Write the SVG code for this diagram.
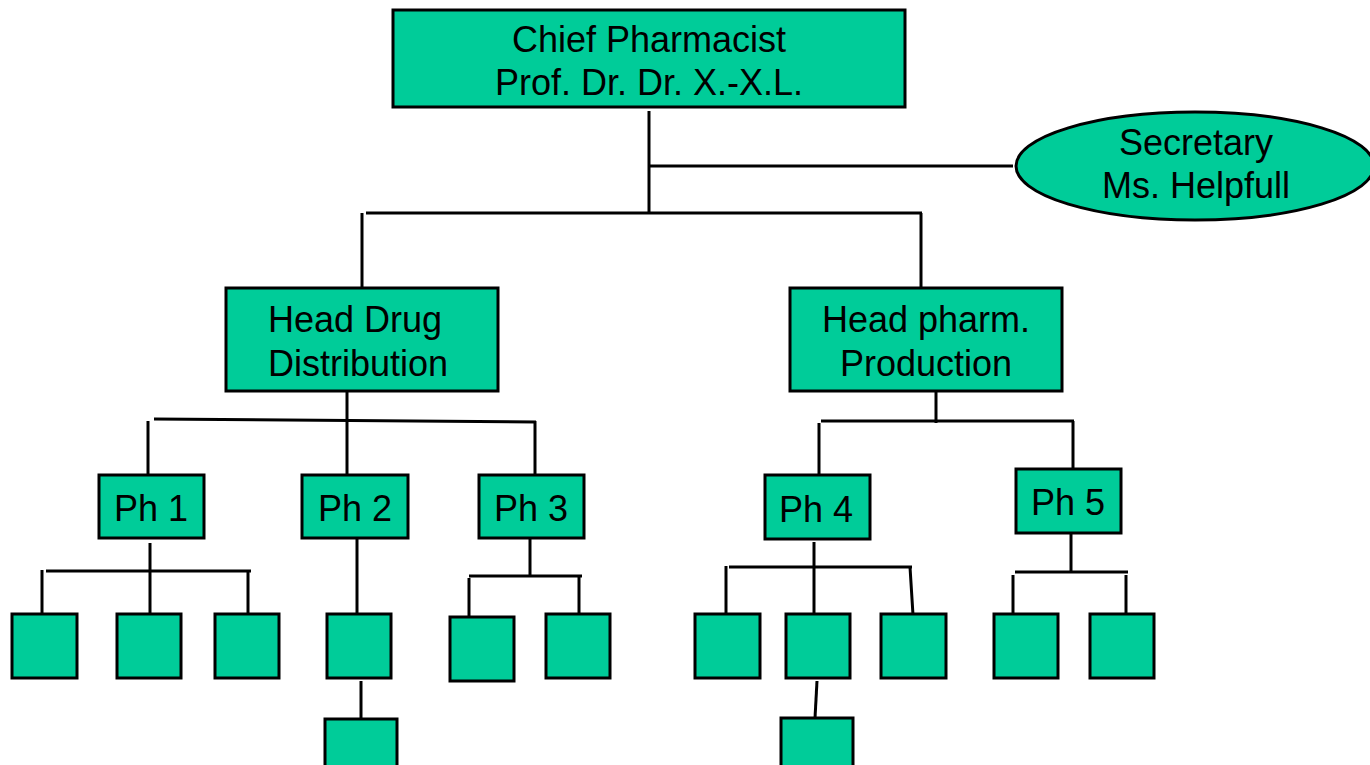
<svg xmlns="http://www.w3.org/2000/svg" width="1370" height="765" viewBox="0 0 1370 765">
  <style>
    .box { fill: #00CC99; stroke: #000; stroke-width: 3; }
    .lbl { font-family: "Liberation Sans", Arial, sans-serif; font-size: 36px; fill: #000; }
    .mid { text-anchor: middle; }
    .wire { stroke: #000; stroke-width: 3; fill: none; stroke-linecap: butt; }
  </style>
  <rect width="1370" height="765" fill="#fff"/>

  <!-- connectors -->
  <g id="connectors" class="wire">
    <!-- chief level -->
    <line x1="649" y1="111" x2="649" y2="213"/>
    <line x1="649" y1="166" x2="1013" y2="166"/>
    <line x1="366" y1="213" x2="922" y2="213"/>
    <line x1="362" y1="213" x2="362" y2="288"/>
    <line x1="921" y1="213" x2="921" y2="288"/>
    <!-- drug distribution -->
    <line x1="347" y1="391" x2="347" y2="476"/>
    <line x1="154" y1="419" x2="536" y2="422"/>
    <line x1="148" y1="421" x2="148" y2="476"/>
    <line x1="535" y1="421" x2="535" y2="476"/>
    <!-- pharm production -->
    <line x1="936" y1="391" x2="936" y2="423"/>
    <line x1="821" y1="421" x2="1074" y2="421"/>
    <line x1="819" y1="423" x2="819" y2="476"/>
    <line x1="1073" y1="421" x2="1073" y2="469"/>
    <!-- Ph 1 -->
    <line x1="150" y1="543" x2="150" y2="614"/>
    <line x1="46" y1="571" x2="251" y2="571"/>
    <line x1="42" y1="570" x2="42" y2="618"/>
    <line x1="248" y1="571" x2="248" y2="614"/>
    <!-- Ph 2 -->
    <line x1="357" y1="538" x2="357" y2="614"/>
    <line x1="361" y1="681" x2="361" y2="719"/>
    <!-- Ph 3 -->
    <line x1="530" y1="538" x2="530" y2="577"/>
    <line x1="469" y1="576" x2="582" y2="576"/>
    <line x1="469" y1="578" x2="469" y2="620"/>
    <line x1="579" y1="576" x2="579" y2="617"/>
    <!-- Ph 4 -->
    <line x1="814" y1="542" x2="814" y2="614"/>
    <line x1="729" y1="567" x2="912" y2="567"/>
    <line x1="726" y1="566" x2="726" y2="614"/>
    <line x1="910" y1="567" x2="913" y2="615"/>
    <line x1="817" y1="681" x2="815" y2="718"/>
    <!-- Ph 5 -->
    <line x1="1071" y1="533" x2="1071" y2="573"/>
    <line x1="1015" y1="572" x2="1128" y2="572"/>
    <line x1="1013" y1="575" x2="1013" y2="617"/>
    <line x1="1126" y1="575" x2="1126" y2="617"/>
  </g>

  <g id="chief">
    <rect class="box" x="393" y="10" width="512" height="97"/>
    <text class="lbl mid" x="649" y="52">Chief Pharmacist</text>
    <text class="lbl mid" x="649" y="95">Prof. Dr. Dr. X.-X.L.</text>
  </g>

  <g id="secretary">
    <ellipse class="box" cx="1195" cy="166" rx="179" ry="54"/>
    <text class="lbl mid" x="1196" y="155">Secretary</text>
    <text class="lbl mid" x="1196" y="198">Ms. Helpfull</text>
  </g>

  <g id="head-distribution">
    <rect class="box" x="226" y="288" width="272" height="103"/>
    <text class="lbl" x="268" y="332">Head Drug</text>
    <text class="lbl" x="268" y="376">Distribution</text>
  </g>

  <g id="head-production">
    <rect class="box" x="790" y="288" width="272" height="103"/>
    <text class="lbl mid" x="926" y="332">Head pharm.</text>
    <text class="lbl mid" x="926" y="376">Production</text>
  </g>

  <g id="ph1">
    <rect class="box" x="99" y="475" width="105" height="63"/>
    <text class="lbl mid" x="151" y="521">Ph 1</text>
  </g>
  <g id="ph2">
    <rect class="box" x="302" y="475" width="106" height="63"/>
    <text class="lbl mid" x="355" y="521">Ph 2</text>
  </g>
  <g id="ph3">
    <rect class="box" x="479" y="475" width="105" height="63"/>
    <text class="lbl mid" x="531" y="521">Ph 3</text>
  </g>
  <g id="ph4">
    <rect class="box" x="765" y="475" width="105" height="64"/>
    <text class="lbl mid" x="816" y="522">Ph 4</text>
  </g>
  <g id="ph5">
    <rect class="box" x="1016" y="469" width="105" height="64"/>
    <text class="lbl mid" x="1068" y="515">Ph 5</text>
  </g>

  <!-- staff under Ph 1 -->
  <g id="ph1-a"><rect class="box" x="12" y="614" width="65" height="64"/></g>
  <g id="ph1-b"><rect class="box" x="117" y="614" width="64" height="64"/></g>
  <g id="ph1-c"><rect class="box" x="215" y="614" width="64" height="64"/></g>
  <!-- staff under Ph 2 -->
  <g id="ph2-a"><rect class="box" x="327" y="614" width="64" height="64"/></g>
  <g id="ph2-b"><rect class="box" x="325" y="719" width="72" height="50"/></g>
  <!-- staff under Ph 3 -->
  <g id="ph3-a"><rect class="box" x="450" y="617" width="64" height="64"/></g>
  <g id="ph3-b"><rect class="box" x="546" y="614" width="64" height="64"/></g>
  <!-- staff under Ph 4 -->
  <g id="ph4-a"><rect class="box" x="695" y="614" width="65" height="64"/></g>
  <g id="ph4-b"><rect class="box" x="786" y="614" width="64" height="64"/></g>
  <g id="ph4-c"><rect class="box" x="881" y="614" width="65" height="64"/></g>
  <g id="ph4-d"><rect class="box" x="781" y="718" width="72" height="51"/></g>
  <!-- staff under Ph 5 -->
  <g id="ph5-a"><rect class="box" x="994" y="614" width="64" height="64"/></g>
  <g id="ph5-b"><rect class="box" x="1090" y="614" width="64" height="64"/></g>
</svg>
